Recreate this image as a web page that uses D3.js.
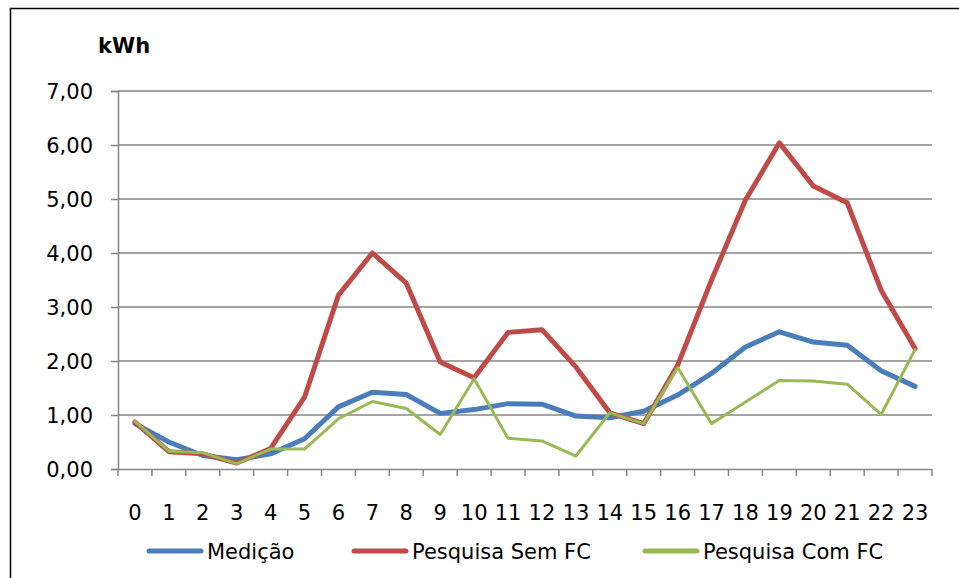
<!DOCTYPE html>
<html>
<head>
<meta charset="utf-8">
<script src="https://cdn.jsdelivr.net/npm/d3@7"></script>
<style>
  html, body { margin: 0; padding: 0; background: #fff; }
  svg { display: block; }
  text { font-family: "DejaVu Sans", "Open Sans", sans-serif; fill: #000; }
</style>
</head>
<body>
<svg id="chart" width="959" height="578"></svg>
<script>
const hours = ["0","1","2","3","4","5","6","7","8","9","10","11","12","13","14","15","16","17","18","19","20","21","22","23"];
const medicao = [0.84,0.50,0.25,0.17,0.28,0.56,1.15,1.42,1.38,1.03,1.10,1.21,1.20,0.98,0.95,1.07,1.37,1.77,2.26,2.54,2.35,2.29,1.82,1.53];
const semFC   = [0.87,0.32,0.28,0.11,0.38,1.33,3.22,4.00,3.44,1.98,1.69,2.53,2.58,1.89,1.04,0.84,1.92,3.50,4.98,6.04,5.24,4.93,3.31,2.23];
const comFC   = [0.88,0.33,0.30,0.10,0.37,0.37,0.93,1.25,1.12,0.64,1.67,0.57,0.52,0.24,1.04,0.84,1.88,0.84,1.24,1.64,1.63,1.57,1.01,2.21];
const yTicks  = [0,1,2,3,4,5,6,7];
const seriesNames = ["Medição","Pesquisa Sem FC","Pesquisa Com FC"];
const seriesColors = ["#4A7EBB","#BE4B48","#98B954"];
const seriesWidths = [5,5,3];

const svg = d3.select("#chart");
const pLeft = 118, pRight = 932, pTop = 91, pBottom = 469;
const fs = "21px";

// frame
svg.append("path").attr("d", `M10.5,590 L10.5,8.5 L970,8.5`).attr("fill","none").attr("stroke","#000").attr("stroke-width",1.5);

const x = d3.scaleBand().domain(hours).range([pLeft, pRight]);
const y = d3.scaleLinear().domain([0,7]).range([pBottom, pTop]);

const fmt = v => d3.format(".2f")(v).replace(".", ",");

// gridlines
svg.append("g").selectAll("line").data(yTicks.filter(d => d > 0)).join("line")
  .attr("x1", pLeft).attr("x2", pRight)
  .attr("y1", d => y(d)).attr("y2", d => y(d))
  .attr("stroke","#868686").attr("stroke-width",1.5);

// y axis
const yAxis = svg.append("g").attr("transform",`translate(${pLeft},0)`)
  .call(d3.axisLeft(y).tickValues(yTicks).tickFormat(fmt).tickSize(7).tickPadding(18));
yAxis.select(".domain").attr("stroke","#868686").attr("stroke-width",1.5);
yAxis.selectAll(".tick line").attr("stroke","#868686").attr("stroke-width",1.5);
yAxis.selectAll(".tick text").style("font-size",fs).attr("fill","#000").attr("dy","0.36em");

// x axis
const xAxis = svg.append("g").attr("transform",`translate(0,${pBottom})`)
  .call(d3.axisBottom(x).tickSize(0).tickPadding(36));
xAxis.select(".domain").attr("stroke","#868686").attr("stroke-width",1.5);
xAxis.selectAll(".tick text").style("font-size",fs).attr("fill","#000");
// category boundary ticks
svg.append("g").selectAll("line").data(hours.concat(["end"])).join("line")
  .attr("x1", (d,i) => pLeft + i * x.step()).attr("x2", (d,i) => pLeft + i * x.step())
  .attr("y1", pBottom).attr("y2", pBottom + 7)
  .attr("stroke","#868686").attr("stroke-width",1.5);

// kWh label
svg.append("text").attr("x", 98).attr("y", 53).text("kWh")
  .style("font-size","21px").style("font-weight","bold");

// lines
const line = d3.line().x((d,i) => x(hours[i]) + x.bandwidth()/2).y(d => y(d));
[medicao, semFC, comFC].forEach((s, k) => {
  svg.append("path").datum(s).attr("d", line)
    .attr("fill","none").attr("stroke", seriesColors[k])
    .attr("stroke-width", seriesWidths[k]).attr("stroke-linejoin","round").attr("stroke-linecap","round");
});

// legend
const legendTextX = [207, 412, 703];
const legendY = 551;
const lg = svg.append("g");
seriesNames.forEach((n, k) => {
  lg.append("line").attr("x1", legendTextX[k] - 58).attr("x2", legendTextX[k] - 6)
    .attr("y1", legendY).attr("y2", legendY)
    .attr("stroke", seriesColors[k]).attr("stroke-width", 5).attr("stroke-linecap","round");
  lg.append("text").attr("x", legendTextX[k]).attr("y", legendY).attr("dy","0.36em")
    .text(n).style("font-size",fs);
});
</script>
</body>
</html>
